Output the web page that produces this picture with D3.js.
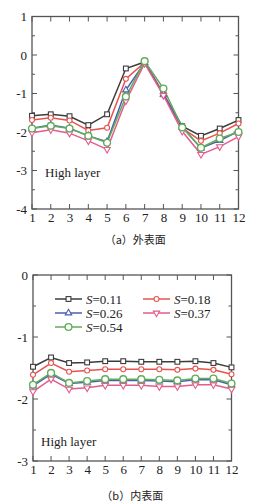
<!DOCTYPE html>
<html>
<head>
<meta charset="utf-8">
<script src="https://cdn.jsdelivr.net/npm/d3@7"></script>
<style>
body { margin: 0; background: #fff; }
svg { display: block; }
.serif { font-family: "Liberation Serif", "DejaVu Serif", serif; }
.cjk { font-family: "Noto Sans CJK SC", sans-serif; }
</style>
</head>
<body>
<svg id="chart" width="257" height="503"></svg>
<script>
var xCats = [1, 2, 3, 4, 5, 6, 7, 8, 9, 10, 11, 12];
var seriesNames = ["S=0.11", "S=0.18", "S=0.26", "S=0.37", "S=0.54"];

// (a) 外表面
var outer011 = [-1.58, -1.54, -1.59, -1.82, -1.54, -0.35, -0.18, -1.02, -1.85, -2.10, -1.91, -1.69];
var outer018 = [-1.69, -1.63, -1.70, -1.96, -1.89, -0.62, -0.19, -1.00, -1.90, -2.23, -2.03, -1.78];
var outer026 = [-1.90, -1.82, -1.90, -2.10, -2.25, -0.91, -0.20, -1.02, -1.87, -2.42, -2.22, -1.98];
var outer037 = [-2.02, -1.94, -2.03, -2.23, -2.45, -1.19, -0.22, -1.05, -1.98, -2.58, -2.38, -2.12];
var outer054 = [-1.91, -1.84, -1.91, -2.10, -2.28, -1.08, -0.16, -0.87, -1.88, -2.41, -2.17, -2.00];
var outerTicks = [1, 0, -1, -2, -3, -4];

// (b) 内表面
var inner011 = [-1.48, -1.33, -1.42, -1.41, -1.39, -1.39, -1.40, -1.40, -1.40, -1.39, -1.42, -1.49];
var inner018 = [-1.61, -1.42, -1.56, -1.54, -1.52, -1.52, -1.52, -1.52, -1.53, -1.51, -1.53, -1.60];
var inner026 = [-1.79, -1.60, -1.75, -1.73, -1.70, -1.70, -1.70, -1.71, -1.72, -1.69, -1.69, -1.77];
var inner037 = [-1.88, -1.68, -1.84, -1.82, -1.78, -1.78, -1.78, -1.80, -1.80, -1.77, -1.77, -1.84];
var inner054 = [-1.77, -1.58, -1.74, -1.71, -1.68, -1.68, -1.68, -1.69, -1.70, -1.67, -1.67, -1.75];
var innerTicks = [0, -1, -2, -3];

var colors = ["#3c3c3c", "#e8534f", "#4a5fae", "#e45b8e", "#62ad5c"];
var shapes = ["square", "circle", "triangle", "down", "bigcircle"];

var svg = d3.select("#chart");

function marker(g, shape, x, y, color) {
	if (shape == "square") {
		g.append("rect").attr("x", x - 2.4).attr("y", y - 2.4).attr("width", 4.8).attr("height", 4.8)
		.attr("fill", "#fff").attr("stroke", color).attr("stroke-width", 1.1);
	} else if (shape == "circle") {
		g.append("circle").attr("cx", x).attr("cy", y).attr("r", 2.5)
		.attr("fill", "#fff").attr("stroke", color).attr("stroke-width", 1.1);
	} else if (shape == "bigcircle") {
		g.append("circle").attr("cx", x).attr("cy", y).attr("r", 3.4)
		.attr("fill", "#fff").attr("stroke", color).attr("stroke-width", 1.4);
	} else {
		var sym = d3.symbol().type(d3.symbolTriangle).size(18);
		g.append("path").attr("d", sym())
		.attr("transform", "translate(" + x + "," + y + ")" + (shape == "down" ? " rotate(180)" : ""))
		.attr("fill", "#fff").attr("stroke", color).attr("stroke-width", 1.1);
	}
}

function drawPanel(opt) {
	var g = svg.append("g");
	var xScale = d3.scaleLinear().domain([1, 12]).range([opt.left, opt.right]);
	var yScale = d3.scaleLinear().domain(opt.yDomain).range([opt.top, opt.bottom]);

	//边框
	g.append("rect")
	.attr("x", opt.left).attr("y", opt.top)
	.attr("width", opt.right - opt.left).attr("height", opt.bottom - opt.top)
	.attr("fill", "none").attr("stroke", "#555").attr("stroke-width", 1.3);

	var yAxis = d3.axisLeft(yScale).tickValues(opt.yTicks).tickSize(0).tickPadding(5)
		.tickFormat(function (d) { return d; });
	var ya = g.append("g").attr("transform", "translate(" + opt.left + ",0)").call(yAxis);
	ya.select(".domain").remove();
	ya.attr("font-family", null).attr("font-size", null);
	ya.selectAll("text").attr("class", "serif").style("font-size", "13px").attr("fill", "#222");

	var xAxis = d3.axisBottom(xScale).tickValues(xCats).tickSize(0).tickPadding(4);
	var xa = g.append("g").attr("transform", "translate(0," + opt.bottom + ")").call(xAxis);
	xa.select(".domain").remove();
	xa.attr("font-family", null).attr("font-size", null);
	xa.selectAll("text").attr("class", "serif").style("font-size", "13px").attr("fill", "#222");

	// 内侧刻度
	var yMinor = d3.range(opt.yDomain[1], opt.yDomain[0] + 0.01, 0.5);
	yMinor.forEach(function (v) {
		var len = (Math.abs(v - Math.round(v)) < 0.01) ? 5 : 3;
		g.append("line").attr("x1", opt.left).attr("x2", opt.left + len)
		.attr("y1", yScale(v)).attr("y2", yScale(v)).attr("stroke", "#555");
		g.append("line").attr("x1", opt.right).attr("x2", opt.right - len)
		.attr("y1", yScale(v)).attr("y2", yScale(v)).attr("stroke", "#555");
	});
	xCats.forEach(function (v) {
		g.append("line").attr("x1", xScale(v)).attr("x2", xScale(v))
		.attr("y1", opt.bottom).attr("y2", opt.bottom - 5).attr("stroke", "#555");
		g.append("line").attr("x1", xScale(v)).attr("x2", xScale(v))
		.attr("y1", opt.top).attr("y2", opt.top + 5).attr("stroke", "#555");
	});

	var line = d3.line()
		.x(function (d, i) { return xScale(xCats[i]); })
		.y(function (d) { return yScale(d); });

	opt.series.forEach(function (vals, k) {
		g.append("path").attr("d", line(vals))
		.attr("fill", "none").attr("stroke", colors[k]).attr("stroke-width", 1.5);
	});
	opt.series.forEach(function (vals, k) {
		vals.forEach(function (v, i) {
			marker(g, shapes[k], xScale(xCats[i]), yScale(v), colors[k]);
		});
	});

	g.append("text").attr("x", opt.labelX).attr("y", opt.labelY)
	.attr("class", "serif").style("font-size", "13px").attr("fill", "#222")
	.text("High layer");

	g.append("text").attr("x", (opt.left + opt.right) / 2).attr("y", opt.captionY)
	.attr("text-anchor", "middle")
	.attr("class", "cjk").style("font-size", "11px").attr("fill", "#222")
	.text(opt.caption);

	return { x: xScale, y: yScale, g: g };
}

drawPanel({
	left: 32, right: 238.5, top: 16.5, bottom: 209,
	yDomain: [1, -4], yTicks: outerTicks,
	series: [outer011, outer018, outer026, outer037, outer054],
	labelX: 45, labelY: 177, captionY: 244, caption: "（a）外表面"
});

var p2 = drawPanel({
	left: 33, right: 231.5, top: 275, bottom: 461,
	yDomain: [0, -3], yTicks: innerTicks,
	series: [inner011, inner018, inner026, inner037, inner054],
	labelX: 41, labelY: 446, captionY: 500, caption: "（b）内表面"
});

// 图例
var legendPos = [[55, 299], [143, 299], [55, 313], [143, 313], [55, 327]];
seriesNames.forEach(function (name, k) {
	var lx = legendPos[k][0], ly = legendPos[k][1];
	var lg = p2.g.append("g");
	lg.append("line").attr("x1", lx).attr("x2", lx + 27).attr("y1", ly).attr("y2", ly)
	.attr("stroke", colors[k]).attr("stroke-width", 1.5);
	marker(lg, shapes[k], lx + 13.5, ly, colors[k]);
	var t = lg.append("text").attr("x", lx + 31).attr("y", ly + 4.5)
	.attr("class", "serif").style("font-size", "13px").attr("fill", "#222");
	t.append("tspan").attr("font-style", "italic").text("S");
	t.append("tspan").text(name.slice(1));
});
</script>
</body>
</html>
